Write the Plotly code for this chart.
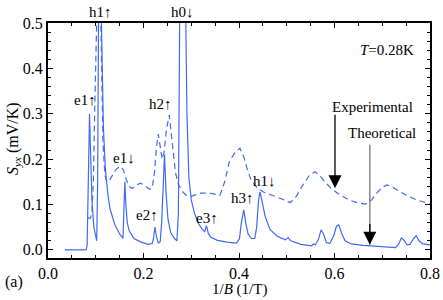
import plotly.graph_objects as go

# Theoretical (solid)
theo_x = [0.035, 0.080, 0.082, 0.084, 0.087, 0.089, 0.092, 0.096, 0.100, 0.102, 0.104, 0.106, 0.111, 0.113,
          0.116, 0.120, 0.125, 0.130, 0.140, 0.150, 0.157, 0.159, 0.161, 0.163, 0.166, 0.170, 0.180, 0.195,
          0.210, 0.218, 0.221, 0.224, 0.227, 0.231, 0.235, 0.238, 0.241, 0.244, 0.247, 0.251, 0.257, 0.265,
          0.270, 0.273, 0.276, 0.288, 0.291, 0.295, 0.300, 0.307, 0.315, 0.323, 0.328, 0.332, 0.336, 0.342,
          0.355, 0.375, 0.395, 0.401, 0.405, 0.410, 0.414, 0.419, 0.426, 0.433, 0.437, 0.441, 0.444, 0.448,
          0.455, 0.465, 0.480, 0.497, 0.503, 0.508, 0.530, 0.552, 0.556, 0.560, 0.566, 0.572, 0.577, 0.583,
          0.590, 0.598, 0.604, 0.609, 0.615, 0.622, 0.635, 0.660, 0.700, 0.728, 0.734, 0.740, 0.745, 0.752,
          0.758, 0.765, 0.771, 0.777, 0.785, 0.800]
theo_y = [0.0, 0.0, 0.01, 0.12, 0.30, 0.22, 0.11, 0.05, 0.025, 0.02, 0.15, 0.55, 0.55, 0.40,
          0.27, 0.18, 0.125, 0.09, 0.055, 0.035, 0.025, 0.09, 0.15, 0.10, 0.06, 0.042, 0.025, 0.017,
          0.012, 0.014, 0.025, 0.05, 0.03, 0.015, 0.018, 0.06, 0.16, 0.21, 0.13, 0.07, 0.038, 0.025,
          0.02, 0.08, 0.55, 0.55, 0.30, 0.16, 0.11, 0.08, 0.058, 0.045, 0.04, 0.053, 0.035, 0.027,
          0.021, 0.017, 0.015, 0.025, 0.06, 0.088, 0.06, 0.035, 0.025, 0.025, 0.05, 0.11, 0.128, 0.105,
          0.073, 0.045, 0.03, 0.022, 0.027, 0.02, 0.012, 0.009, 0.013, 0.011, 0.022, 0.044, 0.035, 0.016,
          0.014, 0.03, 0.052, 0.055, 0.036, 0.02, 0.013, 0.010, 0.007, 0.005, 0.012, 0.026, 0.022, 0.011,
          0.012, 0.024, 0.031, 0.02, 0.013, 0.011]

# Experimental (dashed)
exp_x = [0.082, 0.089, 0.092, 0.095, 0.098, 0.101, 0.103, 0.110, 0.112, 0.115, 0.119, 0.123, 0.128, 0.135,
         0.143, 0.151, 0.158, 0.164, 0.170, 0.176, 0.184, 0.193, 0.203, 0.212, 0.218, 0.223, 0.227, 0.231,
         0.235, 0.239, 0.243, 0.248, 0.254, 0.258, 0.262, 0.267, 0.273, 0.280, 0.290, 0.297, 0.306, 0.315,
         0.330, 0.345, 0.360, 0.370, 0.380, 0.392, 0.402, 0.410, 0.418, 0.425, 0.437, 0.450, 0.465, 0.479,
         0.495, 0.507, 0.520, 0.535, 0.548, 0.559, 0.568, 0.578, 0.595, 0.612, 0.630, 0.647, 0.665, 0.678,
         0.690, 0.700, 0.710, 0.722, 0.737, 0.755, 0.772, 0.800]
exp_y = [0.07, 0.07, 0.085, 0.15, 0.32, 0.48, 0.55, 0.55, 0.40, 0.24, 0.165, 0.15, 0.152, 0.165,
         0.178, 0.184, 0.176, 0.155, 0.14, 0.135, 0.142, 0.147, 0.142, 0.134, 0.135, 0.17, 0.225, 0.255,
         0.225, 0.2, 0.215, 0.265, 0.297, 0.26, 0.21, 0.17, 0.145, 0.13, 0.12, 0.117, 0.12, 0.125,
         0.125, 0.124, 0.12, 0.15, 0.195, 0.215, 0.224, 0.205, 0.175, 0.155, 0.138, 0.128, 0.122, 0.117,
         0.11, 0.104, 0.118, 0.145, 0.165, 0.172, 0.165, 0.152, 0.133, 0.121, 0.11, 0.104, 0.101, 0.11,
         0.127, 0.138, 0.143, 0.138, 0.128, 0.118, 0.11, 0.101]

peak_labels = ["e1↑", "h2↑", "e1↓", "e2↑", "e3↑", "h3↑", "h1↓"]
peak_label_x = [0.078, 0.236, 0.159, 0.207, 0.333, 0.408, 0.454]
peak_label_y = [0.330, 0.322, 0.202, 0.077, 0.070, 0.114, 0.152]
top_labels = ["h1↑", "h0↓"]
top_label_x = [0.110, 0.282]

x_ticks = [0.0, 0.2, 0.4, 0.6, 0.8]
y_ticks = [0.0, 0.1, 0.2, 0.3, 0.4, 0.5]

LINE = "#4169f5"
FONT = "Liberation Serif, Times New Roman, DejaVu Serif, serif"

fig = go.Figure()
fig.add_trace(go.Scatter(x=exp_x, y=exp_y, mode="lines",
                         line=dict(color=LINE, width=1.2, dash="6px,4px"), showlegend=False))
fig.add_trace(go.Scatter(x=theo_x, y=theo_y, mode="lines",
                         line=dict(color=LINE, width=1.2), showlegend=False))

lab_font = dict(family=FONT, size=15, color="black")
for t, x, y in zip(peak_labels, peak_label_x, peak_label_y):
    fig.add_annotation(x=x, y=y, text=t, showarrow=False, font=lab_font)
for t, x in zip(top_labels, top_label_x):
    fig.add_annotation(x=x, y=1.047, yref="paper", yanchor="middle", text=t, showarrow=False, font=lab_font)

# T label
fig.add_annotation(x=0.771, y=0.44, text="<i>T</i>=0.28K", showarrow=False, xanchor="right", font=lab_font)
fig.add_annotation(x=0.68, y=0.314, text="Experimental", showarrow=False, font=lab_font)
fig.add_annotation(x=0.70, y=0.257, text="Theoretical", showarrow=False, font=lab_font)
# Experimental arrow (black)
fig.add_annotation(x=0.601, y=0.136, ax=0.601, ay=0.301, axref="x", ayref="y", xref="x", yref="y",
                   text="", showarrow=True, arrowhead=2, arrowsize=2.0, arrowwidth=1.3, arrowcolor="black")
# Theoretical arrow: gray shaft, black head
fig.add_annotation(x=0.674, y=0.011, ax=0.674, ay=0.235, axref="x", ayref="y", xref="x", yref="y",
                   text="", showarrow=True, arrowhead=0, arrowwidth=1.3, arrowcolor="#777777")
fig.add_annotation(x=0.674, y=0.011, ax=0.674, ay=0.06, axref="x", ayref="y", xref="x", yref="y",
                   text="", showarrow=True, arrowhead=2, arrowsize=2.0, arrowwidth=1.3, arrowcolor="black")

# axis titles
fig.add_annotation(xref="paper", yref="paper", x=-0.092, y=0.51, xanchor="center", yanchor="middle",
                   text="<i>S<sub>yx</sub></i> (mV/K)",
                   textangle=-90, showarrow=False, font=dict(family=FONT, size=16, color="black"))
fig.add_annotation(xref="paper", yref="paper", x=-0.088, y=-0.10, xanchor="center", yanchor="middle",
                   text="(a)", showarrow=False, font=dict(family=FONT, size=16, color="black"))
fig.add_annotation(xref="paper", yref="paper", x=0.5, y=-0.134, xanchor="center", yanchor="middle",
                   text="1/<i>B</i> (1/T)", showarrow=False, font=dict(family=FONT, size=15, color="black"))

axis_common = dict(showgrid=False, zeroline=False, showline=True, linecolor="black", linewidth=2,
                   mirror="allticks", ticks="inside", ticklen=5, tickwidth=1, tickcolor="black",
                   automargin=False, tickfont=dict(family=FONT, size=16, color="black"))

fig.update_xaxes(range=[0, 0.8], tickvals=x_ticks, ticktext=[f"{v:.1f}" for v in x_ticks],
                 minor=dict(dtick=0.05, ticks="inside", ticklen=3, tickcolor="black", showgrid=False),
                 **axis_common)
fig.update_yaxes(range=[-0.018, 0.5], tickvals=y_ticks, ticktext=[f"{v:.1f}" for v in y_ticks],
                 minor=dict(dtick=0.02, tick0=0, ticks="inside", ticklen=3, tickcolor="black", showgrid=False),
                 **axis_common)

fig.update_layout(width=443, height=300, margin=dict(l=48, r=13, t=23, b=42, autoexpand=False),
                  plot_bgcolor="white", paper_bgcolor="white", font=dict(family=FONT))

fig.write_html("out.html", config={"displayModeBar": False},
               post_script="document.body.style.margin='0';document.body.style.padding='0';")
